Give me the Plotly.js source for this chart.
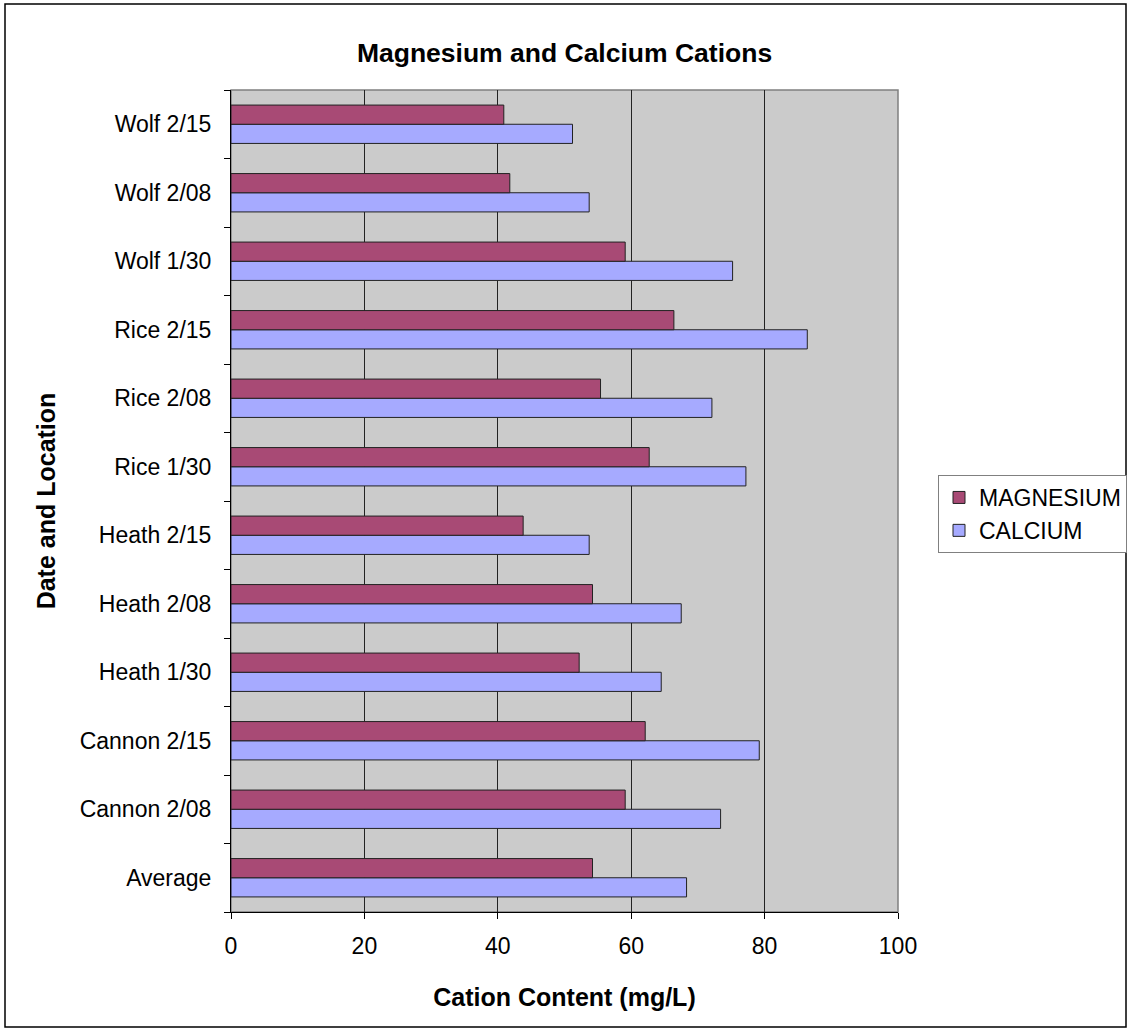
<!DOCTYPE html>
<html>
<head>
<meta charset="utf-8">
<script src="https://cdn.plot.ly/plotly-3.0.1.min.js"></script>
<style>
html,body{margin:0;padding:0;background:#fff;}
#chart{width:1130px;height:1031px;}
</style>
</head>
<body>
<div id="chart"></div>
<script>
// Categories, bottom to top as drawn
const categories = ["Average","Cannon 2/08","Cannon 2/15","Heath 1/30","Heath 2/08","Heath 2/15",
  "Rice 1/30","Rice 2/08","Rice 2/15","Wolf 1/30","Wolf 2/08","Wolf 2/15"];
const magnesium = [54.2, 59.1, 62.1, 52.2, 54.2, 43.8, 62.7, 55.4, 66.4, 59.1, 41.8, 40.9];
const calcium   = [68.3, 73.4, 79.2, 64.5, 67.5, 53.7, 77.2, 72.1, 86.4, 75.2, 53.7, 51.2];
const xTicks = [0, 20, 40, 60, 80, 100];

const F = "Liberation Sans, Arial, sans-serif";

const traces = [
  {type:"bar", orientation:"h", name:"CALCIUM", y:categories, x:calcium,
   marker:{color:"#A6AAFF", line:{color:"#222", width:1}}, hoverinfo:"x+y"},
  {type:"bar", orientation:"h", name:"MAGNESIUM", y:categories, x:magnesium,
   marker:{color:"#A84A75", line:{color:"#222", width:1}}, hoverinfo:"x+y"}
];

// plot area: x 231..898, y 90..912
const L=231, R=1130-898, T=90, B=1031-912;
const W=1130-L-R, H=1031-T-B;
const px = v => (v-L)/W;
const py = v => (1031-B-v)/H;

const layout = {
  width:1130, height:1031,
  margin:{l:L, r:R, t:T, b:B, pad:0, autoexpand:false},
  paper_bgcolor:"#fff",
  plot_bgcolor:"#CBCBCB",
  font:{family:F, color:"#000", size:23},
  barmode:"group",
  bargap:0.44,
  bargroupgap:0,
  showlegend:true,
  title:{text:"<b>Magnesium and Calcium Cations</b>", font:{family:F, size:26.5, color:"#000"},
         x:0.5, xref:"paper", xanchor:"center", y:1-(53/1031), yref:"container", yanchor:"middle"},
  xaxis:{range:[0,100], tickvals:xTicks, ticktext:xTicks.map(String), automargin:false,
         showgrid:true, gridcolor:"#222", gridwidth:1,
         showline:true, linecolor:"#000", linewidth:1,
         ticks:"outside", ticklen:6, tickcolor:"#000",
         tickfont:{family:F, size:23}, ticklabelstandoff:7,
         zeroline:false, fixedrange:true,
         title:{text:"<b>Cation Content (mg/L)</b>", font:{family:F, size:25}, standoff:30}},
  yaxis:{type:"category", categoryorder:"array", categoryarray:categories, automargin:false,
         showgrid:false, showline:true, linecolor:"#000", linewidth:1,
         ticks:"outside", ticklen:6, tickcolor:"#000", tickson:"boundaries",
         tickfont:{family:F, size:23}, ticklabelstandoff:14,
         zeroline:false, fixedrange:true,
         title:{text:"<b>Date and Location</b>", font:{family:F, size:25}, standoff:16}},
  legend:{x:px(938), y:py(475), xanchor:"left", yanchor:"top",
          traceorder:"reversed", bgcolor:"#fff", bordercolor:"#808080", borderwidth:1,
          font:{family:F, size:23}, itemwidth:30, tracegroupgap:2},
  shapes:[
    {type:"rect", xref:"paper", yref:"paper", x0:0, x1:1, y0:0, y1:1,
     line:{color:"#808080", width:1.5}, layer:"below"},
    {type:"rect", xref:"paper", yref:"paper", x0:px(5), x1:px(1126), y0:py(1027), y1:py(4),
     line:{color:"#000", width:1.5}, layer:"above"}
  ]
};

Plotly.newPlot("chart", traces, layout, {displayModeBar:false, staticPlot:true});
</script>
</body>
</html>
